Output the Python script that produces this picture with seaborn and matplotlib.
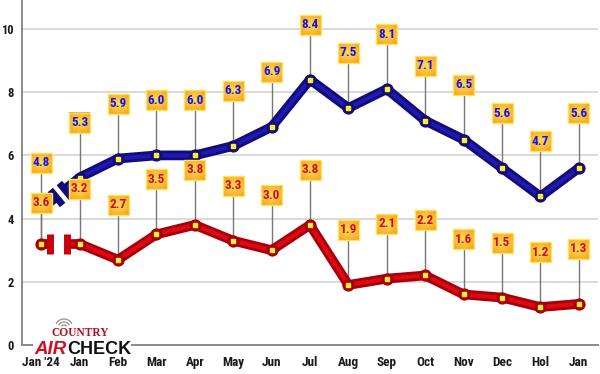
import numpy as np
import pandas as pd
import matplotlib
matplotlib.use("Agg")
import matplotlib.pyplot as plt
import seaborn as sns
from matplotlib.patches import Rectangle, Arc
from matplotlib.colors import LinearSegmentedColormap

# ---- data ----
months = ["Jan '24", "Jan", "Feb", "Mar", "Apr", "May", "Jun", "Jul",
          "Aug", "Sep", "Oct", "Nov", "Dec", "Hol", "Jan"]
blue_vals = [4.8, 5.3, 5.9, 6.0, 6.0, 6.3, 6.9, 8.4, 7.5, 8.1, 7.1, 6.5, 5.6, 4.7, 5.6]
red_vals = [3.6, 3.2, 2.7, 3.5, 3.8, 3.3, 3.0, 3.8, 1.9, 2.1, 2.2, 1.6, 1.5, 1.2, 1.3]
# where the first (broken) point sits in the picture
blue_first_drawn = 4.3
red_first_drawn = 3.2
y_ticks = [0, 2, 4, 6, 8, 10]

sns.set_theme(style="white")
COND = ['Roboto Condensed', 'Archivo Narrow', 'Oswald', 'Liberation Sans', 'DejaVu Sans']
plt.rcParams['font.family'] = COND

W, H = 600, 374
fig = plt.figure(figsize=(W / 100, H / 100), dpi=100)
ax = fig.add_axes([22 / W, 29 / H, 576 / W, 345 / H])
XMIN, XMAX = -0.5, 14.5
YMIN, YMAX = 0, 345 / 31.6
px_x = (XMAX - XMIN) / 576
px_y = (YMAX - YMIN) / 345

x_idx = list(range(len(months)))
df = pd.DataFrame({
    "x": x_idx[1:] * 2,
    "v": blue_vals[1:] + red_vals[1:],
    "series": ["blue"] * (len(months) - 1) + ["red"] * (len(months) - 1),
})

BLUE_DARK, BLUE_MID = "#120c78", "#2018b0"
RED_DARK, RED_MID = "#a80008", "#dd0a14"

sns.lineplot(data=df, x="x", y="v", hue="series",
             palette={"blue": BLUE_DARK, "red": RED_DARK},
             linewidth=7.0, ax=ax, legend=False, zorder=4)
sns.lineplot(data=df, x="x", y="v", hue="series",
             palette={"blue": BLUE_MID, "red": RED_MID},
             linewidth=3.0, ax=ax, legend=False, zorder=5)
for line in ax.lines:
    line.set_solid_capstyle("round")
    line.set_solid_joinstyle("round")


def broken(x0, y0, x1, y1, pieces, dark, mid):
    for (ta, tb) in pieces:
        xa, ya = x0 + (x1 - x0) * ta, y0 + (y1 - y0) * ta
        xb, yb = x0 + (x1 - x0) * tb, y0 + (y1 - y0) * tb
        ax.plot([xa, xb], [ya, yb], color=dark, lw=7.0, solid_capstyle="butt", zorder=4)
        ax.plot([xa, xb], [ya, yb], color=mid, lw=3.0, solid_capstyle="butt", zorder=5)


# red break
broken(0, red_first_drawn, 1, red_vals[1], [(0, 0.24), (0.66, 1)], RED_DARK, RED_MID)
for t in (0.24, 0.66):
    ax.plot([t], [red_first_drawn + (red_vals[1] - red_first_drawn) * t],
            marker=(2, 0, 0), ms=15, mew=5, color="#c8000c", zorder=6)
# blue break
broken(0, blue_first_drawn, 1, blue_vals[1], [(0.2, 0.38), (0.62, 1)], BLUE_DARK, BLUE_MID)
dy_px = (blue_vals[1] - blue_first_drawn) * 31.6
ang = np.degrees(np.arctan2(dy_px, 38.4))
for t in (0.38, 0.62):
    ax.plot([t], [blue_first_drawn + (blue_vals[1] - blue_first_drawn) * t],
            marker=(2, 0, ang), ms=14, mew=5, color=BLUE_DARK, zorder=6)

# markers
for vals, col, first in ((blue_vals, BLUE_DARK, False), (red_vals, RED_DARK, True)):
    xs = x_idx[1:]
    ys = vals[1:]
    if first:
        xs = [0] + xs
        ys = [red_first_drawn] + ys
    ax.plot(xs, ys, "o", ms=7.8, color=col, mec=col, zorder=6)
    ax.plot(xs, ys, "s", ms=3.2, color="#ffee33", mec="#ffee33", zorder=7)

# labels with stems
box_w, box_h = 21 * px_x, 20 * px_y
yy, xx = np.mgrid[-1:1:20j, -1:1:21j]
grad = np.sqrt(xx ** 2 * 0.8 + yy ** 2)
cmap = LinearSegmentedColormap.from_list("bx", ["#ffdc50", "#fcc13a", "#f5a01c"])
OFF = 55 * px_y


def label(x, yp, ylab, text, color):
    ax.plot([x, x], [yp, ylab], color="#777777", lw=1.0, zorder=3)
    ax.imshow(grad, cmap=cmap, extent=[x - box_w / 2, x + box_w / 2, ylab - box_h / 2, ylab + box_h / 2],
              aspect="auto", zorder=8, vmin=0, vmax=1.35, interpolation="bilinear")
    ax.add_patch(Rectangle((x - box_w / 2, ylab - box_h / 2), box_w, box_h, fill=False,
                           edgecolor="#ffe45a", lw=1.0, zorder=9))
    ax.text(x, ylab, text, ha="center", va="center", color=color, fontsize=9.5,
            fontweight="bold", zorder=10)


TXT_BLUE, TXT_RED = "#1414f0", "#c8102e"
for i in range(1, len(months)):
    label(i, blue_vals[i], blue_vals[i] + OFF, f"{blue_vals[i]:.1f}", TXT_BLUE)
    label(i, red_vals[i], red_vals[i] + OFF, f"{red_vals[i]:.1f}", TXT_RED)
label(0, red_first_drawn, (345 - 163) / 31.6, f"{blue_vals[0]:.1f}", TXT_BLUE)
label(0, red_first_drawn, (345 - 203) / 31.6, f"{red_vals[0]:.1f}", TXT_RED)

# axes styling
ax.set_xlim(XMIN, XMAX)
ax.set_ylim(YMIN, YMAX)
ax.set_yticks(y_ticks)
ax.set_yticklabels([str(t) for t in y_ticks], fontsize=9, fontweight="bold", color="#1a1a1a")
ax.set_xticks(x_idx)
ax.set_xticklabels(months, fontsize=9.5, fontweight="bold", color="#1a1a1a")
ax.grid(axis="y", color="#d9d9d9", lw=1.4, zorder=0)
ax.grid(axis="x", visible=False)
ax.set_axisbelow(True)
for s in ("top", "right"):
    ax.spines[s].set_visible(False)
for s in ("left", "bottom"):
    ax.spines[s].set_color("#8a8a8a")
    ax.spines[s].set_linewidth(1.4)
ax.tick_params(axis="x", direction="in", length=7, width=1.0, color="#8a8a8a", pad=8)
ax.tick_params(axis="y", length=0, pad=6)
ax.set_xlabel("")
ax.set_ylabel("")
ax.set_facecolor("white")

# logo
fig.patches.append(Rectangle((33 / W, 1 - 357 / H), 98 / W, 27 / H, transform=fig.transFigure,
                             facecolor="white", edgecolor="none", zorder=20))
for r in (3, 6, 9):
    fig.patches.append(Arc((64 / W, 1 - 328 / H), 2 * r / W, 2 * r / H, theta1=40, theta2=140,
                           transform=fig.transFigure, color="#9a9a9a", lw=1.0, zorder=21))
fig.text(80 / W, 1 - 333 / H, "COUNTRY", ha="center", va="center", fontsize=8.3,
         fontweight="bold", color="#b01020", family=["Liberation Serif", "DejaVu Serif"], zorder=22)
fig.text(67 / W, 1 - 349 / H, "AIR", ha="right", va="center", fontsize=13.5, fontweight="bold",
         style="italic", color="#d01020", family=["Liberation Sans", "DejaVu Sans"], zorder=22)
fig.text(67 / W, 1 - 349 / H, "CHECK", ha="left", va="center", fontsize=13, fontweight="bold",
         color="#111111", family=["Liberation Sans", "DejaVu Sans"], zorder=22)

fig.savefig("out.png", dpi=100)
